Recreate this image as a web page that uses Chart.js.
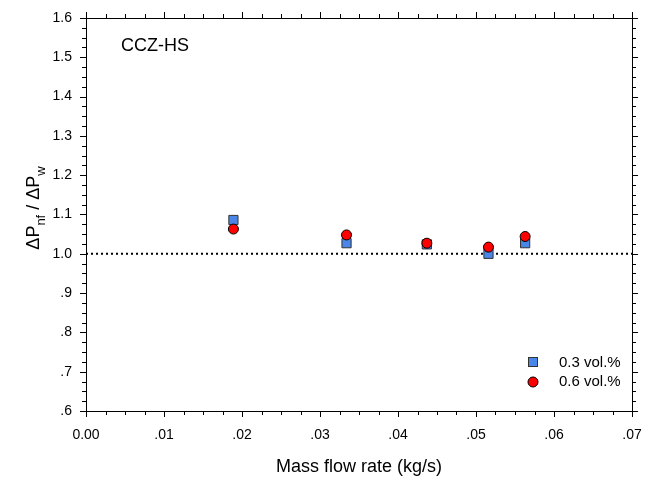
<!DOCTYPE html>
<html>
<head>
<meta charset="utf-8">
<script src="https://cdn.jsdelivr.net/npm/chart.js@4"></script>
<style>
  html, body { margin: 0; padding: 0; background: #fff; }
  #wrap { width: 656px; height: 480px; }
</style>
</head>
<body>
<div id="wrap"><canvas id="chart" width="656" height="480"></canvas></div>
<script>
// values
const massFlow = [0.0189, 0.0334, 0.0437, 0.0516, 0.0563];
const ratio03 = [1.086, 1.027, 1.024, 1.000, 1.027];
const ratio06 = [1.063, 1.048, 1.027, 1.017, 1.044];
const refX = [0, 0.07];
const refY = [1.0, 1.0];
const xTicks = [0, 0.01, 0.02, 0.03, 0.04, 0.05, 0.06, 0.07];
const yTicks = [0.6, 0.7, 0.8, 0.9, 1.0, 1.1, 1.2, 1.3, 1.4, 1.5, 1.6];

const FONT = '"Liberation Sans", Arial, sans-serif';

function pts(xs, ys) {
  return xs.map((x, i) => ({ x: x, y: ys[i] }));
}

function xLabel(v) {
  if (Math.abs(v) < 1e-9) return '0.00';
  return v.toFixed(2).replace(/^0/, '');
}
function yLabel(v) {
  const s = v.toFixed(1);
  return v < 0.999 ? s.replace(/^0/, '') : s;
}

// frame, minor ticks, titles and legend
const decor = {
  id: 'decor',
  afterDraw(chart) {
    const ctx = chart.ctx;
    const a = chart.chartArea;
    const xs = chart.scales.x;
    const ys = chart.scales.y;
    ctx.save();
    ctx.strokeStyle = '#000';
    ctx.lineWidth = 1;
    ctx.strokeRect(a.left + 0.5, a.top + 0.5, a.right - a.left, a.bottom - a.top);

    ctx.beginPath();
    for (let i = 0; i <= 28; i++) {
      const v = i * 0.0025;
      const px = Math.round(xs.getPixelForValue(v)) + 0.5;
      const len = i % 4 === 0 ? 6 : 4;
      ctx.moveTo(px, a.bottom); ctx.lineTo(px, a.bottom + len);
      ctx.moveTo(px, a.top); ctx.lineTo(px, a.top - len);
    }
    for (let i = 0; i <= 40; i++) {
      const v = 0.6 + i * 0.025;
      const py = Math.round(ys.getPixelForValue(v)) + 0.5;
      const len = i % 4 === 0 ? 6 : 4;
      ctx.moveTo(a.left, py); ctx.lineTo(a.left - len, py);
      ctx.moveTo(a.right, py); ctx.lineTo(a.right + len, py);
    }
    ctx.stroke();

    ctx.fillStyle = '#000';
    // panel label
    ctx.font = '18px ' + FONT;
    ctx.textAlign = 'left';
    ctx.textBaseline = 'middle';
    ctx.fillText('CCZ-HS', 121, 46);

    // x title
    ctx.font = '18px ' + FONT;
    ctx.textAlign = 'center';
    ctx.fillText('Mass flow rate (kg/s)', (a.left + a.right) / 2, 467);

    // y title with subscripts
    ctx.save();
    ctx.translate(32, 208);
    ctx.rotate(-Math.PI / 2);
    const parts = [
      ['\u0394P', 18, 0], ['nf', 13, 6], [' / \u0394P', 18, 0], ['w', 13, 6]
    ];
    let total = 0;
    parts.forEach(p => { ctx.font = p[1] + 'px ' + FONT; total += ctx.measureText(p[0]).width; });
    let cx = -total / 2;
    ctx.textAlign = 'left';
    ctx.textBaseline = 'alphabetic';
    parts.forEach(p => {
      ctx.font = p[1] + 'px ' + FONT;
      ctx.fillText(p[0], cx, 7 + p[2]);
      cx += ctx.measureText(p[0]).width;
    });
    ctx.restore();

    // legend
    const d0 = chart.data.datasets[1];
    const d1 = chart.data.datasets[0];
    ctx.lineWidth = 1;
    ctx.fillStyle = d0.backgroundColor;
    ctx.strokeStyle = d0.borderColor;
    ctx.fillRect(528.5, 357.5, 9, 9);
    ctx.strokeRect(528.5, 357.5, 9, 9);
    ctx.beginPath();
    ctx.arc(533, 382, 5, 0, Math.PI * 2);
    ctx.fillStyle = d1.backgroundColor;
    ctx.fill();
    ctx.strokeStyle = d1.borderColor;
    ctx.stroke();
    ctx.fillStyle = '#000';
    ctx.font = '15px ' + FONT;
    ctx.textAlign = 'left';
    ctx.textBaseline = 'middle';
    ctx.fillText('0.3 vol.%', 559, 363);
    ctx.fillText('0.6 vol.%', 559, 382);
    ctx.restore();
  }
};

new Chart(document.getElementById('chart'), {
  type: 'scatter',
  data: {
    datasets: [
      {
        label: '0.6 vol.%',
        data: pts(massFlow, ratio06),
        pointStyle: 'circle',
        pointRadius: 5,
        pointHoverRadius: 5,
        backgroundColor: '#ff0000',
        borderColor: '#000',
        borderWidth: 1
      },
      {
        label: '0.3 vol.%',
        data: pts(massFlow, ratio03),
        pointStyle: 'rect',
        pointRadius: 6.5,
        pointHoverRadius: 6.5,
        backgroundColor: '#4a86e8',
        borderColor: '#333',
        borderWidth: 1
      },
      {
        type: 'line',
        label: 'ref',
        data: pts(refX, refY),
        borderColor: '#000',
        borderWidth: 2,
        borderDash: [2, 3],
        pointRadius: 0,
        fill: false
      }
    ]
  },
  options: {
    responsive: false,
    animation: false,
    events: [],
    layout: { padding: { top: 18, right: 24, left: 0, bottom: 0 } },
    plugins: {
      legend: { display: false },
      tooltip: { enabled: false }
    },
    scales: {
      x: {
        type: 'linear',
        min: 0,
        max: 0.07,
        afterFit(s) { s.height = 69; },
        afterBuildTicks(s) { s.ticks = xTicks.map(v => ({ value: v })); },
        grid: { display: false },
        border: { display: false },
        ticks: {
          color: '#000',
          font: { family: FONT, size: 14 },
          padding: 8,
          maxRotation: 0,
          callback: v => xLabel(v)
        }
      },
      y: {
        min: 0.6,
        max: 1.6,
        afterFit(s) { s.width = 86; },
        afterBuildTicks(s) { s.ticks = yTicks.map(v => ({ value: v })); },
        grid: { display: false },
        border: { display: false },
        ticks: {
          color: '#000',
          font: { family: FONT, size: 14 },
          padding: 6,
          callback: v => yLabel(v)
        }
      }
    }
  },
  plugins: [decor]
});
</script>
</body>
</html>
